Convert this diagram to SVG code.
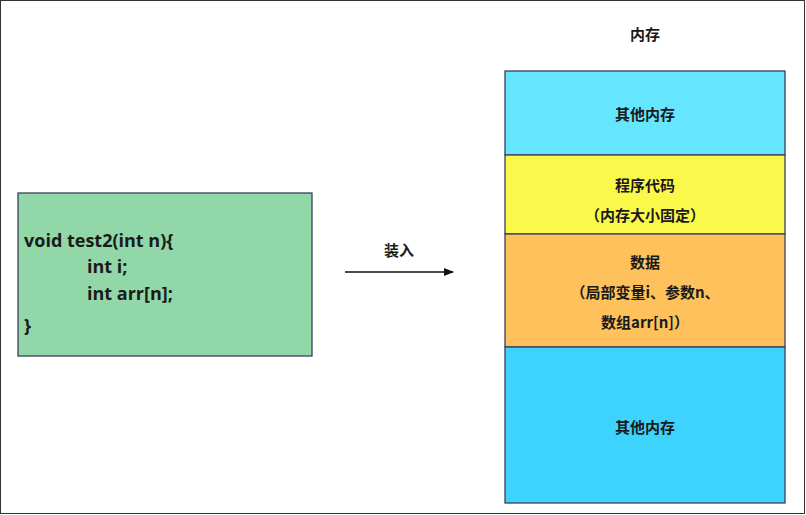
<svg xmlns="http://www.w3.org/2000/svg" width="806" height="515" viewBox="0 0 806 515">
<style>
text{font-family:"Noto Sans CJK SC","Noto Sans",sans-serif;font-weight:bold;fill:#1a1a1a}
.c{text-anchor:middle;font-size:15px}
.code{font-family:"Open Sans","Noto Sans CJK SC",sans-serif;font-size:18px}
.blk{stroke:#3a3f5c;stroke-width:1.3}
</style>
<defs><marker id="ah" markerWidth="10" markerHeight="8" refX="9" refY="4" orient="auto" markerUnits="userSpaceOnUse"><path d="M0,0 L10,4 L0,8 z" fill="#111"/></marker></defs>
<rect x="0.5" y="0.5" width="804" height="513" fill="#fff" stroke="#333"/>
<g id="code">
<rect class="blk" x="18" y="193" width="294" height="163" fill="#92d7a8"/>
<text class="code" x="24" y="247">void test2(int n){</text>
<text class="code" x="87" y="273">int i;</text>
<text class="code" x="87" y="300">int arr[n];</text>
<text class="code" x="24" y="332">}</text>
</g>
<g id="connectors">
<line x1="345" y1="272" x2="453" y2="272" stroke="#111" stroke-width="1.3" marker-end="url(#ah)"/>
<text class="c" x="399" y="256">装入</text>
</g>
<text class="c" x="645" y="40">内存</text>
<g id="other1"><rect class="blk" x="505" y="71" width="280" height="84" fill="#66e5ff"/><text class="c" x="645" y="120">其他内存</text></g>
<g id="codeSeg"><rect class="blk" x="505" y="155" width="280" height="79" fill="#fbf84c"/><text class="c" x="645" y="191">程序代码</text><text class="c" x="645" y="221">（内存大小固定）</text></g>
<g id="data"><rect class="blk" x="505" y="234" width="280" height="113" fill="#fec15c"/><text class="c" x="645" y="268">数据</text><text class="c" x="645" y="298">（局部变量i、参数n、</text><text class="c" x="645" y="328">数组arr[n]）</text></g>
<g id="other2"><rect class="blk" x="505" y="347" width="280" height="156" fill="#3dd3fd"/><text class="c" x="645" y="433">其他内存</text></g>
</svg>
